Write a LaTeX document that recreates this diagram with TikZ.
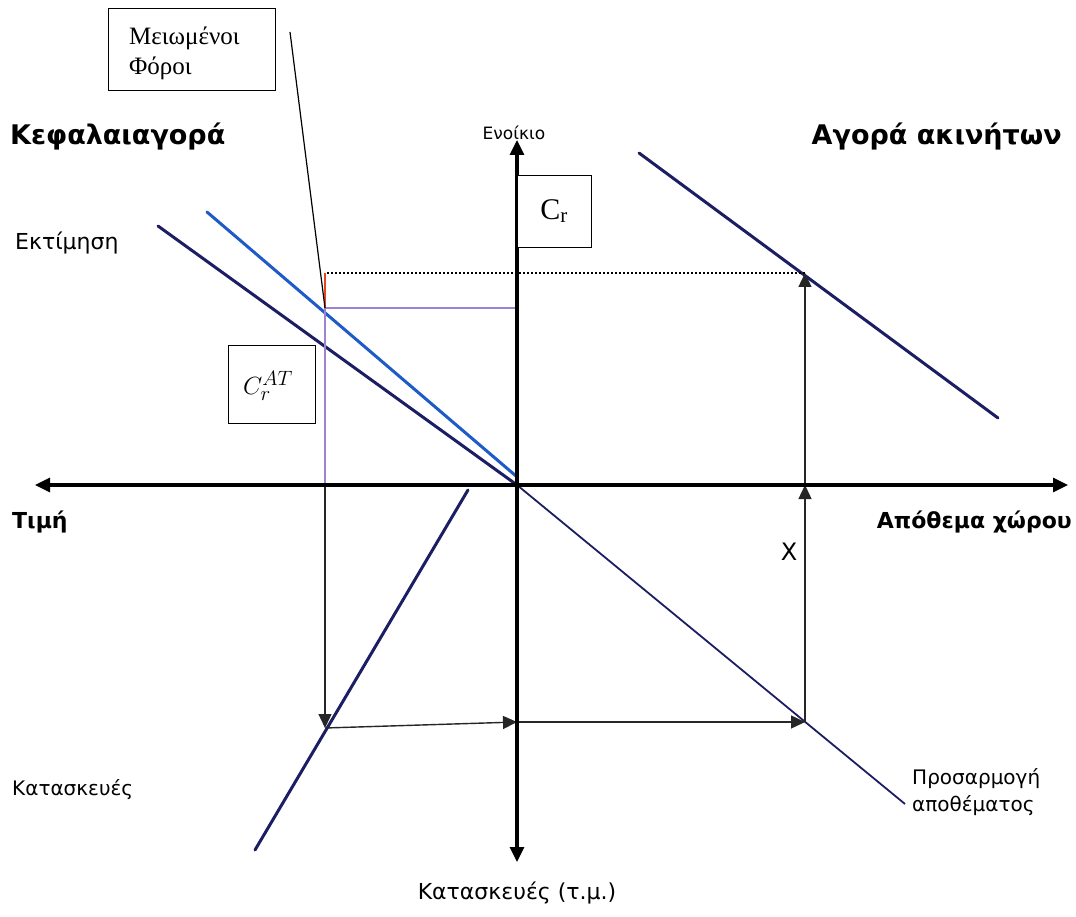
\documentclass[tikz,border=0pt]{standalone}
\usepackage{fontspec}
\setmainfont{Liberation Serif}
\setsansfont{DejaVu Sans}
\usetikzlibrary{arrows.meta}
\definecolor{navy}{RGB}{28,30,100}
\definecolor{lblue}{RGB}{30,90,200}
\definecolor{lpurple}{RGB}{160,130,210}
\definecolor{lred}{RGB}{230,70,30}
\begin{document}
\begin{tikzpicture}[x=1pt,y=-1pt,
  axisline/.style={line width=3.2pt,-{Triangle[length=15pt,width=14pt]}},
  navyline/.style={navy,line width=3pt,line cap=round},
  thinnavy/.style={navy,line width=1.8pt},
  flow/.style={black!85,line width=1.4pt,-{Triangle[length=14pt,width=13pt]}},
  labelbox/.style={draw,line width=1.2pt,inner sep=0pt},
  sanslbl/.style={font=\sffamily\fontsize{21}{25}\selectfont,inner sep=0pt},
  boldlbl/.style={font=\sffamily\bfseries\fontsize{27}{32}\selectfont,inner sep=0pt}]
\fill[white] (0,0) rectangle (1076,917);
\useasboundingbox (0,0) rectangle (1076,917);
% key points
\coordinate (O) at (517,485);
\coordinate (AL) at (35,485);
\coordinate (AR) at (1068,485);
\coordinate (AT) at (517,140);
\coordinate (AB) at (517,862);
\coordinate (E1) at (158,226);
\coordinate (B1) at (207,212);
\coordinate (B2) at (516,476);
\coordinate (A1) at (639,153);
\coordinate (A2) at (998,418);
\coordinate (P2) at (905,804);
\coordinate (K1) at (468,490);
\coordinate (K2) at (255,850);
\coordinate (P) at (325,308);
\coordinate (Q) at (325,273);
\coordinate (D) at (805,273);
\coordinate (M) at (517,308);
\coordinate (H) at (325,485);
\coordinate (K) at (325,728);
\coordinate (V) at (517,722);
\coordinate (W) at (805,722);
\coordinate (X) at (805,485);
\coordinate (F) at (290,32);
% market lines
\draw[navyline] (E1) -- (O);
\draw[lblue,line width=3pt,line cap=round] (B1) -- (B2);
\draw[navyline] (A1) -- (A2);
\draw[thinnavy] (O) -- (P2);
\draw[navyline] (K1) -- (K2);
% guides
\draw[black,line width=2pt,dotted] (327,273) -- (D);
\draw[lpurple,line width=1.5pt] (P) -- (M);
\draw[lpurple,line width=1.5pt] (P) -- (H);
\draw[lred,line width=2pt] (P) -- (Q);
\draw[black,line width=1.2pt] (F) -- (P);
% flow arrows
\draw[flow] (H) -- (K);
\draw[flow] (K) -- (V);
\draw[flow] (V) -- (W);
\draw[flow] (W) -- (X);
\draw[flow] (X) -- (D);
% axes
\draw[axisline] (O) -- (AL);
\draw[axisline] (O) -- (AR);
\draw[axisline] (O) -- (AT);
\draw[axisline] (O) -- (AB);
% boxes
\node[labelbox,minimum width=167pt,minimum height=82pt,anchor=north west] (tax) at (108,8) {};
\node[anchor=north west,inner sep=0pt,align=left,font=\fontsize{25}{30}\selectfont] (taxtxt) at (129,27) {Μειωμένοι\\Φόροι};
\node[labelbox,minimum width=74pt,minimum height=72pt,anchor=north west,fill=white] (cr) at (517,175) {};
\node[font=\fontsize{30}{34}\selectfont,inner sep=0pt] (crtxt) at (554,211) {C\textsubscript{r}};
\node[labelbox,minimum width=87pt,minimum height=78pt,anchor=north west] (crat) at (228,345) {};
\node[font=\fontsize{28}{32}\selectfont,inner sep=0pt] (crattxt) at (268,386) {$C_r^{AT}$};
% labels
\node[boldlbl,anchor=west] (capm) at (10,137) {Κεφαλαιαγορά};
\node[boldlbl,anchor=east] (rem) at (1062,137) {Αγορά ακινήτων};
\node[sanslbl,anchor=west,font=\sffamily\fontsize{22}{26}\selectfont] (val) at (15,243) {Εκτίμηση};
\node[sanslbl,font=\sffamily\fontsize{17}{20}\selectfont] (rent) at (514,133) {Ενοίκιο};
\node[boldlbl,anchor=west,font=\sffamily\bfseries\fontsize{22}{26}\selectfont] (price) at (12,522) {Τιμή};
\node[boldlbl,anchor=east,font=\sffamily\bfseries\fontsize{22}{26}\selectfont] (stock) at (1072,522) {Απόθεμα χώρου};
\node[sanslbl,font=\sffamily\fontsize{24}{28}\selectfont] (chi) at (789,552) {Χ};
\node[sanslbl,anchor=west,font=\sffamily\fontsize{20}{24}\selectfont] (constr) at (12,790) {Κατασκευές};
\node[sanslbl,anchor=west,align=left,font=\sffamily\fontsize{20}{27}\selectfont] (adj) at (912,792) {Προσαρμογή\\αποθέματος};
\node[sanslbl,font=\sffamily\fontsize{22}{26}\selectfont] (constrsq) at (517,893) {Κατασκευές (τ.μ.)};
\end{tikzpicture}
\end{document}
